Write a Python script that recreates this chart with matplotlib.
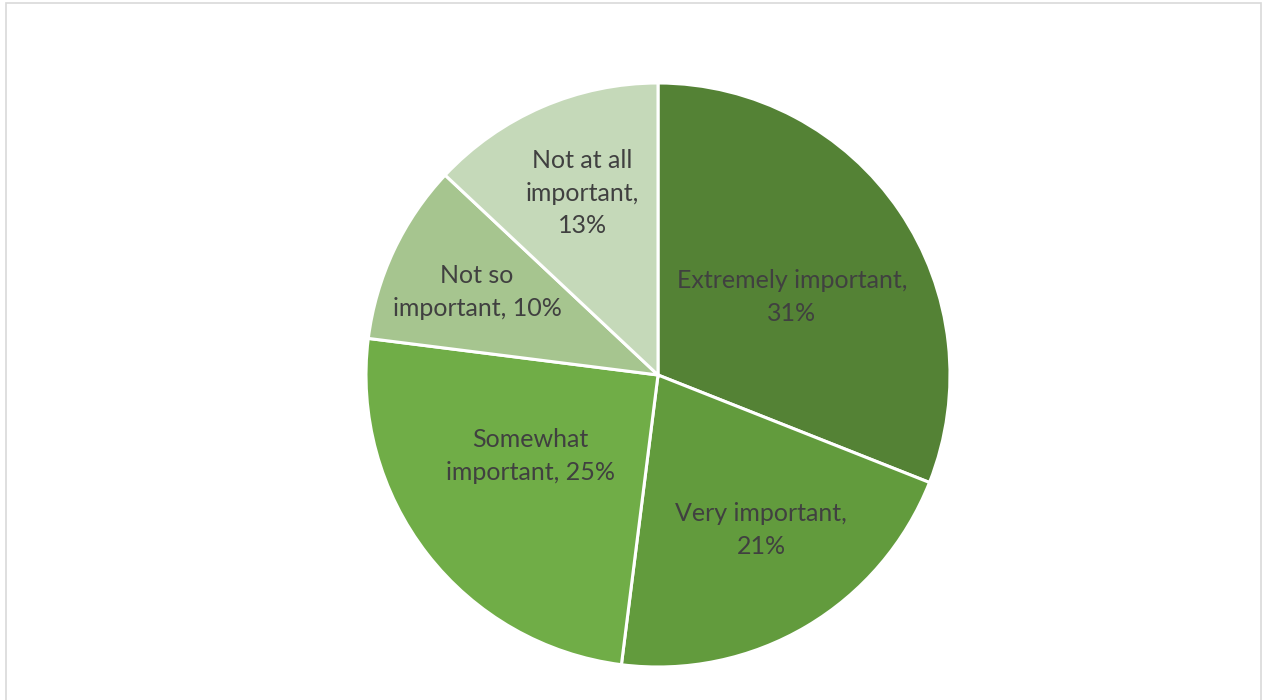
import matplotlib
matplotlib.use("Agg")
import matplotlib.pyplot as plt
from matplotlib.patches import Rectangle

# importance ratings, clockwise from 12 o'clock
categories = ["Extremely important", "Very important", "Somewhat important",
              "Not so important", "Not at all important"]
shares = [31, 21, 25, 10, 13]
colors = ["#548235", "#629B3D", "#70AD47", "#A6C58F", "#C5D9B9"]

# how each data label wraps
label_fmt = ["Extremely important,\n{}%", "Very important,\n{}%",
             "Somewhat\nimportant, {}%", "Not so\nimportant, {}%",
             "Not at all\nimportant,\n{}%"]
# label anchors in units of the pie radius (best-fit style placement)
label_pos = [(0.459, 0.267), (0.353, -0.531), (-0.438, -0.277),
             (-0.620, 0.284), (-0.260, 0.623)]

fig = plt.figure(figsize=(12.62, 7.0), dpi=100)
fig.patch.set_facecolor("white")

# chart area frame
fig.patches.append(Rectangle((6 / 1262, -0.02), 1255 / 1262, 1.02 - 3 / 700,
                             transform=fig.transFigure, fill=False,
                             edgecolor="#D9D9D9", linewidth=1.2))

R = 292
cx, cy = 658, 375
ax = fig.add_axes([(cx - R) / 1262, 1 - (cy + R) / 700, 2 * R / 1262, 2 * R / 700])
wedges, _ = ax.pie(shares, colors=colors, startangle=90, counterclock=False,
                   radius=1.0, wedgeprops=dict(edgecolor="white", linewidth=2.2))
ax.set_xlim(-1, 1)
ax.set_ylim(-1, 1)
ax.set_aspect("equal")
ax.axis("off")

for val, fmt, (x, y) in zip(shares, label_fmt, label_pos):
    ax.text(x, y, fmt.format(val), ha="center", va="center",
            fontsize=18, color="#404040", family="Lato", linespacing=1.5)

fig.savefig("out.png", dpi=100)
